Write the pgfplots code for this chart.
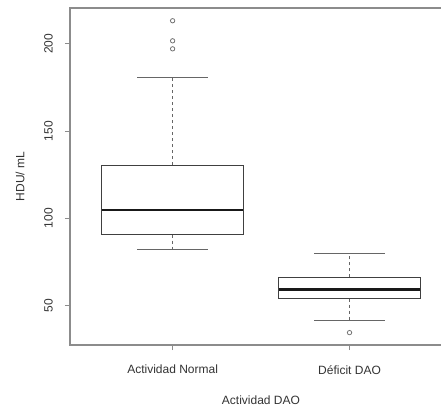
\documentclass[border=0pt]{standalone}
\usepackage{fontspec}
\setmainfont{Liberation Sans}
\usepackage{pgfplots}
\pgfplotsset{compat=1.18}
\begin{document}
\begin{tikzpicture}
\path[use as bounding box] (-70pt,-61pt) rectangle (371pt,345pt);
\begin{axis}[
  at={(0pt,0pt)}, anchor=south west,
  scale only axis,
  width=420pt, height=337pt,
  xmin=0.42, xmax=2.794,
  ymin=27.4, ymax=220.5,
  axis line style={black!45, line width=1.1pt},
  tick align=outside,
  tick pos=left,
  major tick length=5pt,
  tick style={black!45, line width=0.9pt},
  xtick={1,2}, xticklabels={Actividad Normal, Déficit DAO},
  ytick={50,100,150,200},
  /pgf/number format/assume math mode=true,
  tick label style={font=\fontsize{12}{14}\selectfont, text=black!80},
  y tick label style={rotate=90, anchor=south, inner sep=0pt, yshift=12pt},
  x tick label style={anchor=north, inner sep=0pt, yshift=-15pt},
  xlabel={Actividad DAO}, ylabel={HDU/ mL},
  label style={font=\fontsize{12}{14}\selectfont, text=black!80},
  x label style={at={(axis description cs:0,0)}, anchor=center, xshift=191pt, yshift=-55pt},
  y label style={at={(axis description cs:0,0.5)}, anchor=center, yshift=50pt},
]
% whiskers (dashed stems)
\addplot[black!60, line width=1pt, dashed] coordinates {(1,130.5) (1,180.5)};
\addplot[black!60, line width=1pt, dashed] coordinates {(1,90.6) (1,82.2)};
\addplot[black!60, line width=1pt, dashed] coordinates {(2,66.1) (2,79.9)};
\addplot[black!60, line width=1pt, dashed] coordinates {(2,54.0) (2,41.4)};
% whisker caps
\addplot[black!60, line width=1pt] coordinates {(0.8,180.5) (1.2,180.5)};
\addplot[black!60, line width=1pt] coordinates {(0.8,82.2) (1.2,82.2)};
\addplot[black!60, line width=1pt] coordinates {(1.8,79.9) (2.2,79.9)};
\addplot[black!60, line width=1pt] coordinates {(1.8,41.4) (2.2,41.4)};
% boxes (Q1..Q3)
\addplot[black!75, line width=1pt] coordinates {(0.6,90.6) (1.4,90.6) (1.4,130.5) (0.6,130.5)} -- cycle;
\addplot[black!75, line width=1pt] coordinates {(1.6,54.0) (2.4,54.0) (2.4,66.1) (1.6,66.1)} -- cycle;
% medians
\addplot[black!90, line width=2.4pt] coordinates {(0.6,104.8) (1.4,104.8)};
\addplot[black!90, line width=2.4pt] coordinates {(1.6,59.2) (2.4,59.2)};
% outliers
\addplot[only marks, mark=o, mark size=2.2pt, mark options={draw=black!55, line width=0.8pt}]
  coordinates {(1,197.1) (1,201.7) (1,213.2) (2,34.5)};
\end{axis}
\end{tikzpicture}
\end{document}
